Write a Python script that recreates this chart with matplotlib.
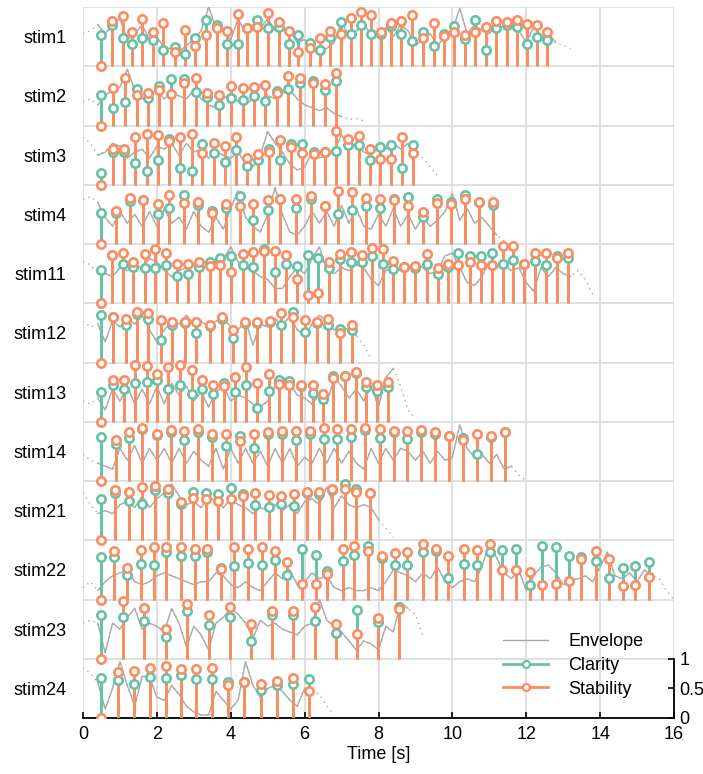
import numpy as np
import matplotlib.pyplot as plt
from matplotlib.lines import Line2D
from matplotlib.legend_handler import HandlerLine2D

plt.rcParams['font.family'] = ['Liberation Sans', 'DejaVu Sans']
plt.rcParams['font.size'] = 13

green = '#66c2a5'
orange = '#fc8d62'
env_color = '#aaaaaa'

names = ['stim1', 'stim2', 'stim3', 'stim4', 'stim11', 'stim12',
         'stim13', 'stim14', 'stim21', 'stim22', 'stim23', 'stim24']

# ---- event times [s], clarity and stability per stimulus ----
stim1_t = [0.50, 0.79, 1.07, 1.33, 1.61, 1.90, 2.16, 2.49, 2.77, 3.04, 3.32, 3.62, 3.91, 4.19, 4.45,
           4.72, 5.01, 5.30, 5.57, 5.83, 6.14, 6.42, 6.70, 6.98, 7.25, 7.53, 7.80, 8.07, 8.34, 8.61,
           8.90, 9.20, 9.49, 9.77, 10.05, 10.34, 10.62, 10.91, 11.18, 11.47, 11.75, 12.02, 12.29, 12.55]
stim1_clar = [.53, .70, .48, .38, .48, .44, .27, .33, .21, .47, .78, .70, .38, .38, .64,
              .78, .64, .67, .38, .53, .40, .28, .49, .75, .54, .70, .54, .55, .68, .55,
              .43, .57, .35, .55, .68, .46, .78, .27, .64, .70, .67, .37, .50, .44]
stim1_stab = [0, .77, .84, .58, .80, .58, .73, .24, .62, .35, .53, .64, .59, .88, .64,
              .67, .90, .75, .60, .24, .31, .48, .60, .55, .81, .92, .86, .58, .73, .77,
              .86, .47, .73, .51, .57, .53, .57, .67, .77, .75, .78, .71, .69, .58]

stim2_t = [0.50, 0.82, 1.15, 1.45, 1.77, 2.06, 2.37, 2.73, 3.05, 3.36, 3.69, 4.00, 4.32, 4.63,
           4.94, 5.25, 5.55, 5.88, 6.22, 6.55, 6.86]
stim2_clar = [.52, .30, .40, .61, .47, .66, .78, .79, .57, .48, .35, .47, .43, .50,
              .42, .58, .62, .71, .75, .60, .75]
stim2_stab = [0, .64, .81, .52, .55, .60, .53, .71, .81, .55, .51, .67, .64, .65,
              .68, .55, .83, .81, .72, .70, .88]

stim3_t = [0.50, 0.82, 1.11, 1.42, 1.72, 2.02, 2.33, 2.62, 2.94, 3.23, 3.55, 3.84, 4.15, 4.45, 4.74,
           5.03, 5.32, 5.64, 5.94, 6.25, 6.55, 6.86, 7.17, 7.47, 7.78, 8.04, 8.34, 8.64, 8.94]
stim3_clar = [.20, .55, .55, .36, .24, .41, .77, .29, .24, .68, .53, .38, .59, .31, .42,
              .61, .42, .69, .69, .56, .55, .57, .67, .67, .42, .64, .67, .29, .67]
stim3_stab = [0, .61, .60, .80, .85, .84, .74, .80, .85, .53, .71, .66, .81, .45, .52,
              .55, .76, .63, .54, .52, .55, .90, .78, .83, .61, .44, .44, .80, .54]

stim4_t = [0.50, 0.89, 1.27, 1.63, 2.02, 2.33, 2.73, 3.12, 3.50, 3.86, 4.24, 4.61, 5.00, 5.34, 5.76,
           6.16, 6.54, 6.90, 7.29, 7.67, 8.04, 8.41, 8.81, 9.20, 9.59, 9.97, 10.34, 10.71, 11.09]
stim4_clar = [.52, .52, .72, .74, .50, .60, .82, .66, .56, .60, .81, .40, .58, .76, .60,
              .76, .64, .50, .57, .64, .60, .76, .80, .45, .76, .71, .82, .71, .65]
stim4_stab = [0, .55, .77, .74, .67, .82, .70, .71, .52, .67, .64, .67, .74, .76, .76,
              .81, .64, .90, .88, .77, .76, .74, .64, .54, .70, .68, .76, .71, .71]

stim11_t = [0.50, 0.79, 1.07, 1.36, 1.68, 1.96, 2.26, 2.55, 2.85, 3.14, 3.43, 3.72, 4.02, 4.32, 4.60,
            4.90, 5.21, 5.50, 5.79, 6.09, 6.37, 6.66, 6.95, 7.26, 7.55, 7.83, 8.12, 8.40, 8.70, 9.00,
            9.30, 9.60, 9.89, 10.16, 10.48, 10.77, 11.06, 11.36, 11.65, 11.95, 12.24, 12.53, 12.83, 13.12]
stim11_clar = [.56, .81, .67, .62, .59, .59, .65, .46, .49, .62, .69, .76, .79, .65, .61,
               .91, .52, .66, .63, .81, .76, .60, .75, .70, .69, .79, .66, .57, .62, .60,
               .66, .49, .62, .84, .79, .80, .84, .66, .73, .67, .72, .65, .79, .76]
stim11_stab = [0, .81, .85, .69, .83, .91, .85, .66, .67, .69, .63, .65, .52, .83, .87,
               .89, .89, .81, .41, .14, .18, .69, .83, .87, .81, .93, .91, .72, .62, .63,
               .83, .59, .66, .65, .69, .65, .65, .96, .97, .67, .84, .84, .76, .84]

stim12_t = [0.50, 0.80, 1.16, 1.47, 1.77, 2.10, 2.42, 2.76, 3.07, 3.43, 3.75, 4.05, 4.38, 4.71,
            5.05, 5.37, 5.69, 6.02, 6.34, 6.63, 6.96, 7.29]
stim12_clar = [.80, .76, .63, .82, .73, .38, .64, .66, .49, .62, .74, .41, .66, .67,
               .69, .63, .86, .52, .66, .63, .56, .55]
stim12_stab = [0, .77, .73, .86, .84, .71, .69, .68, .69, .64, .76, .55, .68, .69,
               .70, .83, .76, .71, .69, .73, .49, .64]

stim13_t = [0.50, 0.80, 1.12, 1.42, 1.72, 1.99, 2.31, 2.62, 2.94, 3.23, 3.52, 3.82, 4.11, 4.42,
            4.72, 5.03, 5.31, 5.59, 5.91, 6.22, 6.51, 6.78, 7.10, 7.40, 7.67, 7.95, 8.25]
stim13_clar = [.51, .62, .56, .66, .67, .71, .56, .62, .47, .55, .47, .66, .51, .62,
               .24, .52, .71, .69, .60, .48, .38, .77, .78, .83, .58, .52, .59]
stim13_stab = [0, .71, .70, .96, .94, .80, .92, .96, .87, .71, .62, .61, .75, .93,
               .65, .81, .63, .62, .62, .62, .46, .73, .78, .84, .67, .62, .67]

stim14_t = [0.50, 0.88, 1.24, 1.61, 1.99, 2.37, 2.74, 3.12, 3.50, 3.88, 4.25, 4.62, 5.02, 5.40, 5.76,
            6.14, 6.52, 6.88, 7.26, 7.64, 8.03, 8.41, 8.78, 9.16, 9.54, 9.92, 10.28, 10.66, 11.04, 11.42]
stim14_clar = [.74, .63, .72, .87, .78, .83, .70, .83, .75, .59, .76, .55, .80, .80, .70,
               .80, .71, .71, .74, .86, .73, .82, .71, .83, .80, .76, .73, .45, .75, .82]
stim14_stab = [0, .69, .82, .89, .80, .86, .84, .88, .79, .79, .67, .79, .83, .84, .84,
               .84, .90, .88, .87, .89, .88, .85, .85, .86, .83, .76, .69, .79, .76, .83]

stim21_t = [0.50, 0.86, 1.24, 1.60, 1.95, 2.29, 2.64, 2.98, 3.32, 3.66, 4.02, 4.33, 4.67, 5.03,
            5.37, 5.71, 6.06, 6.39, 6.74, 7.08, 7.40, 7.76]
stim21_clar = [.70, .80, .66, .61, .84, .79, .62, .82, .79, .78, .89, .78, .60, .56,
               .61, .58, .80, .78, .84, .95, .86, .80]
stim21_stab = [0, .84, .82, .90, .92, .87, .65, .71, .69, .67, .69, .75, .80, .76,
               .75, .78, .82, .81, .87, .87, .81, .80]

stim22_t = [0.50, 0.84, 1.18, 1.56, 1.92, 2.26, 2.65, 3.03, 3.37, 3.73, 4.09, 4.47, 4.85, 5.19,
            5.53, 5.94, 6.30, 6.60, 7.04, 7.35, 7.71, 8.09, 8.45, 8.76, 9.20, 9.56, 9.89, 10.31,
            10.66, 11.02, 11.34, 11.72, 12.11, 12.42, 12.80, 13.16, 13.49, 13.88, 14.23, 14.62,
            14.95, 15.33]
stim22_clar = [.71, .72, .42, .60, .59, .80, .74, .74, .81, .53, .56, .61, .58, .67,
               .41, .85, .75, .48, .65, .75, .91, .70, .58, .58, .81, .82, .37, .60,
               .59, .81, .84, .85, .25, .90, .88, .74, .72, .65, .36, .53,
               .57, .64]
stim22_stab = [0, .82, .54, .84, .88, .88, .89, .85, .85, .52, .88, .86, .88, .82,
               .64, .26, .26, .43, .85, .90, .82, .74, .78, .81, .93, .86, .73, .86,
               .84, .93, .50, .49, .47, .24, .26, .31, .69, .82, .68, .23,
               .25, .38]

stim23_t = [0.50, 1.07, 1.65, 2.24, 2.82, 3.40, 3.97, 4.54, 5.12, 5.69, 6.27, 6.86, 7.41, 7.98, 8.55]
stim23_clar = [.74, .71, .64, .36, .81, .57, .71, .30, .74, .74, .64, .43, .82, .62, .87]
stim23_stab = [0, .97, .85, .51, .93, .74, .87, .59, .81, .80, .87, .59, .41, .68, .84]

stim24_t = [0.50, 0.95, 1.39, 1.81, 2.24, 2.65, 3.05, 3.50, 3.93, 4.35, 4.83, 5.26, 5.69, 6.11]
stim24_clar = [.68, .64, .57, .70, .67, .72, .65, .66, .60, .61, .48, .56, .58, .66]
stim24_stab = [0, .77, .80, .85, .87, .82, .82, .84, .56, .61, .58, .63, .68, .46]

# ---- envelopes, sampled every 0.2 s from t = 0 ----
env_step = 0.2
stim1_env = [.55, .6, .7, .55, .7, .8, .45, .55, .7, .45, .5, .3, .3, .25, .35, .45, .6, 1.0, .65, .6,
             .45, .8, .55, .7, .65, .8, .6, .65, .6, .4, .45, .3, .25, .3, .4, .75, .5, .6, .7, .55,
             .6, .65, .5, .7, .6, .35, .45, .55, .35, .5, .6, .98, .55, .7, .6, .55, .7, .65, .75, .6,
             .4, .65, .5, .55, .4, .35, .3]
stim2_env = [.4, .45, .35, .5, .6, .65, .95, .6, .45, .5, .6, .45, .55, .5, .45, .6, .45, .35, .3, .45,
             .55, .4, .35, .45, .7, .5, .45, .55, .6, .45, .35, .3, .25, .3, .2, .15, .1, .12, .08]
stim3_env = [.8, .7, .5, .55, .7, .65, .45, .55, .6, .45, .65, .6, .7, .5, .7, .55, .6, .45, .55, .5,
             .45, .55, .35, .3, .5, .9, .7, .55, .35, .25, .3, .55, .45, .5, .55, .85, .6, .7, .55, .5,
             .65, .6, .7, .6, .7, .55, .45, .3, .15]
stim4_env = [.75, .8, .7, .45, .3, .55, .35, .5, .3, .55, .3, .6, .35, .45, .25, .55, .3, .2, .45, .25,
             .6, .9, .45, .3, .2, .5, .95, .5, .2, .15, .3, .55, .35, .55, .3, .65, .35, .6, .3, .25,
             .5, .3, .6, .3, .5, .25, .45, .3, .4, .55, .85, .4, .6, .35, .45, .3, .15, .05]
stim11_env = [.7, .65, .5, .5, .45, .6, .55, .65, .6, .75, .7, .55, .45, .55, .6, .65, .55, .7, .6, .75,
              .95, .7, .6, .55, .45, .4, .25, .25, .45, .6, .5, .75, .95, .55, .5, .6, .55, .65, .6, .4,
              .3, .55, .6, .55, .6, .7, .6, .5, .55, .8, .85, .6, .35, .3, .45, .7, .6, .65, .55, .6,
              .35, .2, .6, .45, .6, .5, .45, .55, .4, .15]
stim12_env = [.7, .6, .65, .35, .7, .6, .75, .65, .8, .55, .35, .55, .7, .65, .8, .65, .7, .6, .7, .75,
              .6, .55, .7, .3, .65, .6, .75, .6, .8, .55, .45, .65, .8, .7, .55, .6, .55, .45, .3, .05]
stim13_env = [.35, .3, .4, .2, .55, .35, .6, .3, .55, .3, .6, .3, .65, .45, .6, .35, .5, .25, .5, .6,
              .35, .45, .4, .3, .25, .35, .6, .75, .65, .45, .4, .3, .45, .3, .75, .6, .4, .55, .35, .6,
              .25, .75, .9, .6, .2, .05]
stim14_env = [.45, .35, .3, .25, .2, .55, .35, .6, .3, .55, .35, .55, .3, .55, .3, .5, .35, .25, .55, .2,
              .55, .3, .55, .3, .5, .25, .55, .3, .55, .25, .4, .3, .55, .3, .55, .3, .5, .3, .2, .55,
              .3, .55, .35, .55, .5, .35, .5, .3, .5, .35, .4, .95, .55, .4, .45, .3, .45, .2, .25, .1,
              .0]
stim21_env = [.8, .6, .45, .5, .45, .6, .65, .55, .75, .55, .7, .8, .95, .75, .6, .65, .55, .75, .65, .55,
              .7, .6, .55, .45, .55, .5, .6, .5, .6, .45, .65, .7, .6, .9, .55, .75, .6, .55, .6, .55,
              .35, .2, .05]
stim22_env = [.2, .3, .15, .3, .4, .45, .5, .3, .25, .3, .4, .45, .4, .35, .3, .25, .3, .3, .45, .4,
              .25, .2, .3, .2, .15, .3, .45, .35, .5, .25, .3, .45, .35, .4, .2, .15, .2, .15, .15, .2,
              .15, .3, .5, .45, .4, .3, .45, .35, .55, .3, .2, .3, .35, .3, .55, .95, .7, .45, .35, .5,
              .15, .4, .55, .58, .45, .25, .33, .35, .4, .3, .55, .8, .4, .35, .45, .3, .5, .4, .35, .15,
              .0]
stim23_env = [.6, .65, .6, .1, .6, .5, .7, .85, .5, .6, .55, .45, .85, .6, .2, .55, .4, .15, .6, .7,
              .85, .75, .6, .35, .65, .55, .6, .5, .45, .4, .55, .6, 1.0, .65, .55, .45, .3, .15, .3, .25,
              .15, .55, .45, .95, .85, .75, .4]
stim24_env = [.85, .75, .6, .15, .5, .95, .55, .2, .7, .7, .35, .3, .55, .4, .2, .1, .05, .05, .45, .3,
              .15, .3, .95, .55, .35, .5, .55, .45, .3, .2, .5, .45, .4, .2, .05]

times = [stim1_t, stim2_t, stim3_t, stim4_t, stim11_t, stim12_t,
         stim13_t, stim14_t, stim21_t, stim22_t, stim23_t, stim24_t]
clarity = [stim1_clar, stim2_clar, stim3_clar, stim4_clar, stim11_clar, stim12_clar,
           stim13_clar, stim14_clar, stim21_clar, stim22_clar, stim23_clar, stim24_clar]
stability = [stim1_stab, stim2_stab, stim3_stab, stim4_stab, stim11_stab, stim12_stab,
             stim13_stab, stim14_stab, stim21_stab, stim22_stab, stim23_stab, stim24_stab]
envelopes = [stim1_env, stim2_env, stim3_env, stim4_env, stim11_env, stim12_env,
             stim13_env, stim14_env, stim21_env, stim22_env, stim23_env, stim24_env]

n = len(names)

fig = plt.figure(figsize=(7.03, 7.74), dpi=100)
ax = fig.add_axes([83 / 703, 56 / 774, 591 / 703, 711 / 774])

for i, name in enumerate(names):
    off = n - 1 - i
    t = np.array(times[i])
    c = np.array(clarity[i])
    s = np.array(stability[i])
    env = np.array(envelopes[i])
    env_t = np.arange(len(env)) * env_step

    # envelope: dotted outside the analysed span, solid inside
    ax.plot(env_t, off + env, color=env_color, lw=1, ls=(0, (1, 3)), zorder=1)
    inside = (env_t >= t[0] - 0.1) & (env_t <= t[-1] + 0.25)
    ax.plot(env_t[inside], off + env[inside], color=env_color, lw=1, zorder=2)

    ax.vlines(t, off, off + c, color=green, lw=2.1, zorder=3)
    ax.vlines(t, off, off + s, color=orange, lw=2.1, zorder=4)
    ax.plot(t, off + c, 'o', ms=6, mfc='white', mec=green, mew=1.9, zorder=5)
    ax.plot(t, off + s, 'o', ms=6, mfc='white', mec=orange, mew=1.9, zorder=6)

ax.set_xlim(0, 16)
ax.set_ylim(0, n)
ax.set_xticks(range(0, 17, 2))
ax.set_yticks(np.arange(n) + 0.5)
ax.set_yticklabels(names[::-1])
ax.set_yticks(np.arange(0, n + 0.01, 0.5), minor=True)
ax.tick_params(axis='y', which='both', length=0, pad=12)
ax.tick_params(axis='x', direction='in', length=4, width=1.2, pad=6)
ax.grid(axis='x', color='#dadada', lw=1.2)
ax.grid(axis='y', which='minor', color='#dadada', lw=1.2)
ax.set_axisbelow(True)
for side in ['left', 'top', 'right']:
    ax.spines[side].set_visible(False)
ax.spines['bottom'].set_linewidth(1.3)
ax.set_xlabel('Time [s]', labelpad=2)

# small value scale on the right for the lowest row
ax2 = ax.twinx()
ax2.set_ylim(0, n)
ax2.set_yticks([0, 0.5, 1])
ax2.set_yticklabels(['0', '0.5', '1'])
for side in ['left', 'top', 'bottom']:
    ax2.spines[side].set_visible(False)
ax2.spines['right'].set_bounds(0, 1)
ax2.spines['right'].set_linewidth(1.3)
ax2.tick_params(axis='y', direction='in', length=4, width=1.2, pad=4)


class EndMarker(HandlerLine2D):
    def get_xdata(self, legend, xdescent, ydescent, width, height, fontsize):
        xdata, _ = super().get_xdata(legend, xdescent, ydescent, width, height, fontsize)
        return xdata, [xdata[-1]]


handles = [
    Line2D([], [], color=env_color, lw=1),
    Line2D([], [], color=green, lw=2, marker='o', ms=5, mfc='white', mec=green, mew=1.6),
    Line2D([], [], color=orange, lw=2, marker='o', ms=5, mfc='white', mec=orange, mew=1.6),
]
leg = fig.legend(handles, ['Envelope', 'Clarity', 'Stability'],
                 loc='upper left', bbox_to_anchor=(503 / 703, 1 - 633 / 774),
                 frameon=False, borderpad=0, borderaxespad=0, handlelength=2.5,
                 handletextpad=1.1, labelspacing=0.38,
                 handler_map={Line2D: EndMarker(numpoints=1)})

fig.savefig('out.png', dpi=100)
